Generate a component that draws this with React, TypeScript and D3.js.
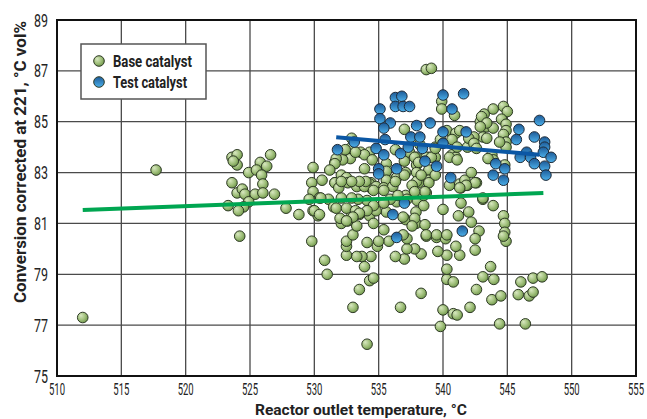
import React, { useRef, useEffect } from "react";
import * as d3 from "d3";

// [temperature °C, conversion vol%]
const basePoints: [number, number][] = [
  [512.0, 77.3], [517.7, 83.1],
  [523.6, 83.6], [524.0, 83.7], [524.0, 83.3], [523.7, 83.45], [525.8, 83.4], [526.6, 83.7], [526.3, 83.25],
  [524.9, 83.0], [525.5, 83.1], [525.9, 82.9], [526.0, 82.55], [523.6, 82.6], [524.0, 82.2], [524.4, 82.35],
  [524.6, 82.15], [525.4, 82.15], [526.0, 82.2], [526.9, 82.15], [524.9, 81.85], [524.5, 81.65], [523.3, 81.7],
  [524.1, 81.5], [527.8, 81.6], [528.8, 81.35], [524.2, 80.5],
  [529.9, 83.2], [529.8, 82.6], [529.9, 82.25], [529.6, 81.95], [530.4, 82.0], [531.1, 81.95], [529.9, 81.5],
  [530.3, 81.3], [529.8, 80.3], [530.8, 79.55], [531.6, 83.4], [531.5, 81.65],
  [531.0, 79.0], [533.5, 78.4], [533.0, 77.7], [534.1, 76.25], [534.3, 78.75], [534.6, 78.85],
  [536.7, 77.7], [538.3, 78.25], [539.8, 76.95], [540.0, 77.6], [540.8, 77.45], [541.1, 77.4], [542.1, 77.7],
  [540.3, 78.8], [540.8, 78.7], [540.3, 79.2], [540.3, 79.75], [541.3, 79.75], [539.6, 79.9], [541.0, 80.1],
  [538.7, 80.5], [539.5, 80.45], [540.2, 80.4], [540.0, 81.55], [541.2, 81.3], [541.4, 81.8],
  [538.3, 79.8], [537.8, 80.0], [537.0, 79.6], [536.3, 79.7], [537.2, 80.0], [537.2, 80.4], [535.8, 80.3],
  [534.9, 80.1], [535.0, 80.3], [534.4, 79.7], [533.9, 79.3], [533.7, 79.7], [533.3, 79.7], [532.5, 79.75],
  [532.5, 80.1], [532.5, 80.3], [533.0, 80.55], [534.1, 80.25],
  [533.3, 80.9], [532.6, 81.1], [532.1, 81.0], [532.0, 81.2], [532.9, 81.35], [533.5, 81.35], [534.3, 81.3],
  [534.6, 81.0], [535.4, 80.75],
  [537.1, 82.1], [537.9, 81.45], [537.9, 81.0], [537.1, 81.15], [538.0, 81.9], [538.5, 81.7], [538.7, 82.2],
  [536.4, 81.85], [535.6, 81.45], [534.8, 81.5], [534.1, 81.9], [533.4, 81.95], [532.9, 82.0], [532.1, 82.0],
  [530.5, 82.0], [530.0, 81.5], [530.4, 81.35], [531.7, 81.6], [532.5, 81.6], [533.2, 81.5],
  [530.6, 82.7], [531.6, 82.6], [532.5, 82.7], [533.7, 82.5], [534.4, 82.6], [535.5, 82.45], [535.9, 82.7],
  [538.1, 82.6], [541.4, 82.5],
  [540.5, 82.5], [541.4, 82.4], [541.9, 82.5], [542.6, 82.6], [543.1, 81.95], [543.9, 81.7], [542.0, 81.45],
  [544.7, 81.3], [544.8, 81.0], [544.8, 80.65], [544.9, 80.3], [544.7, 80.5], [542.8, 80.7], [542.5, 80.4],
  [542.5, 79.95],
  [543.7, 79.3], [543.1, 78.9], [543.95, 78.8], [542.6, 78.4], [543.8, 78.0], [544.5, 78.15], [546.05, 78.7],
  [547.0, 78.85], [547.7, 78.9], [545.85, 78.2], [546.7, 78.15], [547.0, 78.3], [544.4, 77.05], [546.4, 77.05],
  [538.7, 87.05], [539.1, 87.1],
  [539.9, 85.8], [539.9, 85.5], [540.9, 85.25], [537.0, 84.7], [532.9, 84.35],
  [532.8, 83.95], [533.6, 83.8], [532.8, 83.55], [532.2, 83.5],
  [536.3, 83.9], [539.4, 84.0], [540.3, 84.65], [541.0, 84.55], [541.3, 84.65],
  [540.7, 83.7], [541.0, 83.6], [541.3, 82.55], [541.7, 82.7],
  [537.95, 83.6], [537.95, 83.3], [537.95, 83.0], [537.95, 82.65],
  [538.9, 83.6], [538.9, 83.1], [538.9, 82.7], [539.4, 83.6], [537.1, 83.0], [537.0, 83.45],
  [535.6, 83.35], [535.6, 83.05], [535.6, 82.7],
  [534.3, 83.8], [533.9, 83.7], [534.5, 83.5], [533.9, 83.15], [533.6, 82.6], [534.3, 82.55], [534.5, 82.35],
  [531.7, 83.55], [531.6, 83.35], [531.2, 83.1], [531.6, 82.6], [531.9, 82.4],
  [532.1, 82.9], [532.5, 82.8], [532.6, 82.6],
  [533.3, 82.45], [533.9, 82.45], [534.8, 82.45], [535.4, 82.4], [536.1, 82.45], [538.5, 82.1], [536.4, 82.8],
  [544.7, 85.6], [545.0, 85.4], [543.9, 85.5], [543.2, 85.3], [542.9, 85.0], [543.4, 84.8], [543.9, 84.75],
  [544.55, 85.1], [544.9, 84.9], [544.9, 84.65], [544.7, 84.5], [544.9, 84.2], [544.9, 84.0], [544.4, 84.2],
  [543.1, 84.4], [542.4, 84.4], [542.5, 84.0], [541.9, 84.0], [543.8, 83.7], [543.9, 83.5], [544.8, 83.3],
  [542.2, 83.0], [542.5, 82.6], [541.8, 82.5], [543.1, 82.0],
  [532.4, 83.9], [533.2, 83.8], [537.95, 84.3], [538.2, 84.1], [537.4, 83.8], [537.8, 83.6], [538.1, 83.4],
  [538.7, 83.6], [539.1, 83.6], [539.4, 83.95], [539.8, 84.3], [540.7, 84.3], [541.1, 84.0],
  [542.0, 84.35], [542.4, 84.15], [542.6, 83.95], [543.0, 85.2], [543.4, 84.95], [542.9, 84.8], [543.4, 84.35],
  [543.5, 83.55], [540.5, 83.6], [541.1, 83.5], [541.3, 82.4], [542.2, 81.05],
  [539.4, 82.9], [538.3, 82.9], [538.9, 82.6], [538.6, 82.25], [537.6, 82.5], [537.0, 82.9],
  [536.3, 82.65], [534.0, 82.65], [533.5, 82.65], [532.9, 82.65], [532.1, 82.65],
  [534.6, 82.3], [535.4, 82.3], [535.9, 81.95], [536.5, 82.1], [537.2, 81.95], [537.8, 82.25],
  [535.4, 81.8], [534.6, 81.7], [534.1, 81.5], [533.5, 81.4], [533.0, 81.25], [532.5, 81.1],
  [536.9, 81.25], [537.8, 81.2], [537.6, 80.9], [536.9, 80.55], [538.6, 80.95], [538.7, 80.55],
  [539.5, 80.55], [540.3, 80.55],
];

const testPoints: [number, number][] = [
  [531.8, 83.9], [533.1, 84.2], [534.8, 83.95], [535.5, 84.3], [535.4, 83.7], [536.7, 83.75], [537.3, 84.0],
  [538.4, 83.95], [537.5, 84.4], [538.2, 84.4], [537.95, 84.85], [539.0, 84.95],
  [536.3, 85.95], [536.8, 86.0], [536.3, 85.6], [536.9, 85.6], [537.4, 85.6], [535.1, 85.5], [535.1, 85.12],
  [535.9, 84.95], [535.4, 84.75], [540.0, 86.05], [541.6, 86.1], [540.7, 85.5], [540.0, 84.6], [540.0, 84.15],
  [541.8, 84.6], [540.6, 82.8], [535.0, 83.15], [535.0, 82.95], [536.4, 83.15], [538.6, 83.45], [539.5, 83.25],
  [537.0, 81.8], [536.1, 81.35], [536.4, 80.45], [541.5, 80.7],
  [547.5, 85.05], [545.9, 84.7], [545.7, 84.3], [547.1, 84.4], [547.9, 84.2], [547.9, 84.0], [547.8, 83.8],
  [548.4, 83.6], [546.5, 83.8], [546.0, 83.6], [546.8, 83.6], [547.1, 83.35], [547.9, 83.25], [548.0, 82.9],
  [544.1, 83.35], [544.8, 83.15], [543.9, 82.9], [544.7, 82.7],
];

// fitted trend lines: [start, end]
const baseTrend: [number, number][] = [[512.0, 81.53], [547.8, 82.2]];
const testTrend: [number, number][] = [[531.7, 84.39], [547.5, 83.7]];

const xTicks = [510, 515, 520, 525, 530, 535, 540, 545, 550, 555];
const yTicks = [75, 77, 79, 81, 83, 85, 87, 89];
const legendLabels = ["Base catalyst", "Test catalyst"];

const App = () => {
  const svgRef = useRef<SVGSVGElement>(null);

  useEffect(() => {
    const width = 647;
    const height = 419;
    const left = 57, right = 636, top = 20, bottom = 376;
    const font = "Roboto, 'Liberation Sans', sans-serif";

    const svg = d3.select(svgRef.current);
    svg.selectAll("*").remove();
    svg.attr("width", width).attr("height", height);

    const x = d3.scaleLinear().domain([510, 555]).range([left, right]);
    const y = d3.scaleLinear().domain([75, 89]).range([bottom, top]);

    const defs = svg.append("defs");
    const g1 = defs.append("radialGradient").attr("id", "gGreen")
      .attr("cx", "40%").attr("cy", "40%").attr("r", "65%").attr("fx", "32%").attr("fy", "30%");
    g1.append("stop").attr("offset", "0%").attr("stop-color", "#d9e8c2");
    g1.append("stop").attr("offset", "55%").attr("stop-color", "#a3c27e");
    g1.append("stop").attr("offset", "100%").attr("stop-color", "#6e9649");
    const g2 = defs.append("linearGradient").attr("id", "gBlue")
      .attr("x1", 0).attr("y1", 0).attr("x2", 0).attr("y2", 1);
    g2.append("stop").attr("offset", "0%").attr("stop-color", "#1d5a97");
    g2.append("stop").attr("offset", "100%").attr("stop-color", "#4cb0ea");

    svg.append("rect").attr("width", width).attr("height", height).attr("fill", "white");

    // grid
    svg.append("g").selectAll("line").data(xTicks.slice(1, -1)).join("line")
      .attr("x1", d => x(d)).attr("x2", d => x(d)).attr("y1", top).attr("y2", bottom)
      .attr("stroke", "#4a4a4a").attr("stroke-width", 1.3);
    svg.append("g").selectAll("line").data(yTicks.slice(1, -1)).join("line")
      .attr("y1", d => y(d)).attr("y2", d => y(d)).attr("x1", left).attr("x2", right)
      .attr("stroke", "#4a4a4a").attr("stroke-width", 1.3);

    // tick labels
    svg.append("g").selectAll("text").data(xTicks).join("text")
      .attr("x", d => x(d)).attr("y", 395).attr("text-anchor", "middle")
      .attr("font-family", font).attr("font-size", 16.5).attr("fill", "#222")
      .attr("textLength", 16).attr("lengthAdjust", "spacingAndGlyphs")
      .text(d => d);
    svg.append("g").selectAll("text").data(yTicks).join("text")
      .attr("x", 48).attr("y", d => y(d) + 6.5).attr("text-anchor", "end")
      .attr("font-family", font).attr("font-size", 18).attr("fill", "#222")
      .attr("textLength", 14).attr("lengthAdjust", "spacingAndGlyphs")
      .text(d => d);

    // axis titles
    svg.append("text").attr("x", 361).attr("y", 415).attr("text-anchor", "middle")
      .attr("font-family", font).attr("font-weight", "bold").attr("font-size", 14.5).attr("fill", "#222")
      .attr("textLength", 212).attr("lengthAdjust", "spacingAndGlyphs")
      .text("Reactor outlet temperature, °C");
    svg.append("text").attr("transform", "translate(26,162) rotate(-90)").attr("text-anchor", "middle")
      .attr("font-family", font).attr("font-weight", "bold").attr("font-size", 17).attr("fill", "#222")
      .attr("textLength", 282).attr("lengthAdjust", "spacingAndGlyphs")
      .text("Conversion corrected at 221, °C vol%");

    // points
    const r = 5.3;
    svg.append("g").selectAll("circle").data(basePoints).join("circle")
      .attr("cx", d => x(d[0])).attr("cy", d => y(d[1])).attr("r", r)
      .attr("fill", "url(#gGreen)").attr("stroke", "#2e3a25").attr("stroke-width", 1);
    svg.append("g").selectAll("circle").data(testPoints).join("circle")
      .attr("cx", d => x(d[0])).attr("cy", d => y(d[1])).attr("r", r)
      .attr("fill", "url(#gBlue)").attr("stroke", "#1d2a38").attr("stroke-width", 1);

    // trend lines
    const line = d3.line<[number, number]>().x(d => x(d[0])).y(d => y(d[1]));
    svg.append("path").attr("d", line(baseTrend)).attr("stroke", "#00a651")
      .attr("stroke-width", 4).attr("fill", "none");
    svg.append("path").attr("d", line(testTrend)).attr("stroke", "#0b57a4")
      .attr("stroke-width", 4).attr("fill", "none");

    // frame
    svg.append("rect").attr("x", left).attr("y", top).attr("width", right - left).attr("height", bottom - top)
      .attr("fill", "none").attr("stroke", "#111").attr("stroke-width", 2);

    // legend
    const legend = svg.append("g");
    legend.append("rect").attr("x", 81).attr("y", 44).attr("width", 125).attr("height", 55)
      .attr("fill", "white").attr("stroke", "#555").attr("stroke-width", 1.5);
    const items = legend.selectAll("g").data(legendLabels).join("g")
      .attr("transform", (d, i) => `translate(99, ${61 + i * 21})`);
    items.append("circle").attr("r", 5.3)
      .attr("fill", (d, i) => (i === 0 ? "url(#gGreen)" : "url(#gBlue)"))
      .attr("stroke", "#2e3a25").attr("stroke-width", 1);
    items.append("text").attr("x", 14).attr("y", 6)
      .attr("font-family", font).attr("font-weight", "bold").attr("font-size", 17).attr("fill", "#222")
      .attr("textLength", (d, i) => (i === 0 ? 79 : 74)).attr("lengthAdjust", "spacingAndGlyphs")
      .text(d => d);
  }, []);

  return (
    <div style={{ position: "absolute", left: 0, top: 0 }}>
      <svg ref={svgRef} style={{ display: "block" }}></svg>
    </div>
  );
};

export default App;
